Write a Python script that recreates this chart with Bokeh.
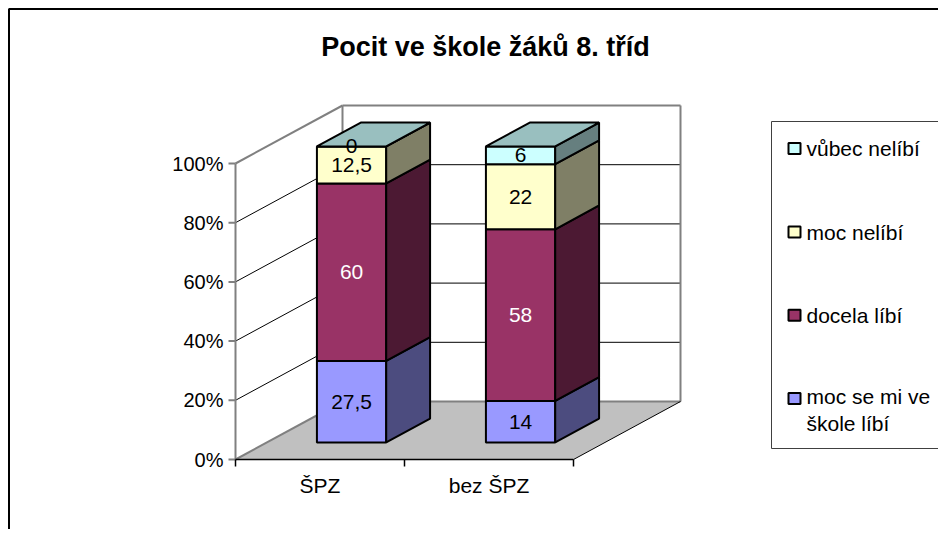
from bokeh.plotting import figure
from bokeh.models import Range1d
from bokeh.core.properties import value
from bokeh.embed import file_html
from bokeh.resources import INLINE

# ---------------- data ----------------
TITLE = "Pocit ve škole žáků 8. tříd"
CATEGORIES = ["ŠPZ", "bez ŠPZ"]
SERIES = ["moc se mi ve škole líbí", "docela líbí", "moc nelíbí", "vůbec nelíbí"]
LEGEND_LABELS = ["moc se mi ve\nškole líbí", "docela líbí", "moc nelíbí", "vůbec nelíbí"]
moc_se_mi_libi = [27.5, 14]
docela_libi = [60, 58]
moc_nelibi = [12.5, 22]
vubec_nelibi = [0, 6]
VALUES = [moc_se_mi_libi, docela_libi, moc_nelibi, vubec_nelibi]
Y_TICKS = [0, 20, 40, 60, 80, 100]
Y_TICK_LABELS = ["0%", "20%", "40%", "60%", "80%", "100%"]

# ---------------- styles ----------------
FRONT = ["#9999FF", "#993366", "#FFFFCC", "#CCFFFF"]
SIDE = ["#4C4C7F", "#4C1933", "#7F7F66", "#667F7F"]
TOP_OF_STACK = "#99BFBF"
LABEL_COLORS = ["black", "white", "black", "black"]
FONT = value("Liberation Sans")
GRAY = "#808080"

W, H = 938, 529
FIG_OFF = 0.0         # page px of the figure's top-left corner
ORIGIN_X = 235.0      # page px of category-axis start
ORIGIN_Y = 459.0      # page px of 0 %
PX_CAT = 169.0        # px per category
PX_PCT = 2.96         # px per percent
DX = 107.0 / PX_CAT   # depth offset (category units)
DY = 58.0 / PX_PCT    # depth offset (percent units)
Z0, Z1 = 0.295, 0.705
HALF = 0.205


def U(px):  # page px -> x data
    return (px - ORIGIN_X) / PX_CAT


def V(py):  # page py -> y data
    return (ORIGIN_Y - py) / PX_PCT


def P(u, v, z):
    return (u + z * DX, v + z * DY)


x0, x1 = U(FIG_OFF), U(FIG_OFF + W)
y0, y1 = V(FIG_OFF + H), V(FIG_OFF)

p = figure(width=W, height=H, output_backend="svg", toolbar_location=None,
           x_range=Range1d(x0, x1), y_range=Range1d(y0, y1),
           min_border=0, x_axis_type=None, y_axis_type=None)
p.grid.visible = False
p.outline_line_color = None
p.background_fill_color = "white"
p.border_fill_color = "white"

n = len(CATEGORIES)


def seg(a, b, color, width):
    p.line([a[0], b[0]], [a[1], b[1]], line_color=color, line_width=width)


# floor
fl = [P(0, 0, 0), P(n, 0, 0), P(n, 0, 1), P(0, 0, 1)]
p.patch([q[0] for q in fl], [q[1] for q in fl], fill_color="#C0C0C0", line_color=None)

# gridlines (side wall + back wall)
for t in Y_TICKS[1:-1]:
    a, b, c = P(0, t, 0), P(0, t, 1), P(n, t, 1)
    p.line([a[0], b[0], c[0]], [a[1], b[1], c[1]], line_color="black", line_width=1)

# wall / floor edges
seg(P(0, 0, 1), P(0, 100, 1), GRAY, 2)
seg(P(0, 100, 0), P(0, 100, 1), GRAY, 2)
seg(P(0, 100, 1), P(n, 100, 1), GRAY, 2)
seg(P(n, 0, 1), P(n, 100, 1), GRAY, 2)
seg(P(0, 0, 1), P(n, 0, 1), GRAY, 2)
seg(P(0, 0, 0), P(0, 0, 1), GRAY, 2)
seg(P(n, 0, 0), P(n, 0, 1), "black", 1)

# y axis
seg(P(0, 0, 0), P(0, 100, 0), GRAY, 2)
for t in Y_TICKS:
    p.line([-7 / PX_CAT, 0], [t, t], line_color=GRAY, line_width=2)
p.text(x=[-12 / PX_CAT] * len(Y_TICKS), y=Y_TICKS, text=Y_TICK_LABELS,
       text_font=FONT, text_font_size="20px", text_align="right",
       text_baseline="middle", text_color="black")

# x axis
seg(P(0, 0, 0), P(n, 0, 0), "black", 1.5)
for i in range(n + 1):
    p.line([i, i], [0, -7 / PX_PCT], line_color="black", line_width=1.5)
p.text(x=[i + 0.5 for i in range(n)], y=[-26 / PX_PCT] * n, text=CATEGORIES,
       text_font=FONT, text_font_size="21px", text_align="center",
       text_baseline="middle", text_color="black")

# bars
xs, ys, fills = [], [], []
lx, ly, lt, lc = [], [], [], []
for i in range(n):
    c = i + 0.5
    xl, xr = c - HALF, c + HALF
    total = sum(s[i] for s in VALUES)
    b = 0.0
    for k, s in enumerate(VALUES):
        t = b + s[i] / total * 100.0
        front = [P(xl, b, Z0), P(xr, b, Z0), P(xr, t, Z0), P(xl, t, Z0)]
        side = [P(xr, b, Z0), P(xr, b, Z1), P(xr, t, Z1), P(xr, t, Z0)]
        for face, col in ((front, FRONT[k]), (side, SIDE[k])):
            xs.append([q[0] for q in face])
            ys.append([q[1] for q in face])
            fills.append(col)
        m = P(c, (b + t) / 2, Z0)
        lx.append(m[0]); ly.append(m[1])
        lt.append(("%g" % s[i]).replace(".", ","))
        lc.append(LABEL_COLORS[k])
        b = t
    top = [P(xl, 100, Z0), P(xr, 100, Z0), P(xr, 100, Z1), P(xl, 100, Z1)]
    xs.append([q[0] for q in top]); ys.append([q[1] for q in top])
    fills.append(TOP_OF_STACK)

p.patches(xs, ys, fill_color=fills, line_color="black", line_width=2)
p.text(x=lx, y=ly, text=lt, text_color=lc, text_font=FONT, text_font_size="21px",
       text_align="center", text_baseline="middle")

# legend
p.quad(left=[U(771)], right=[U(990)], top=[V(121)], bottom=[V(448)],
       fill_color="white", line_color="#404040", line_width=1)
entry_y = [398, 314.7, 231.5, 148]
p.rect(x=[U(794)] * 4, y=[V(e) for e in entry_y], width=12, height=11,
       width_units="screen", height_units="screen",
       fill_color=FRONT, line_color="black", line_width=2)
text_y = [409.4, 314.7, 231.5, 148]
p.text(x=[U(806)] * 4, y=[V(e) for e in text_y], text=LEGEND_LABELS,
       text_font=FONT, text_font_size="21px", text_align="left",
       text_baseline="middle", text_color="black", text_line_height=1.18)

# title
p.text(x=[U(485)], y=[V(46)], text=[TITLE], text_font=FONT,
       text_font_size="27px", text_font_style="bold", text_align="center",
       text_baseline="alphabetic", text_color="black")

# chart border (left + top)
p.line([U(8.5), U(8.5), U(990)], [V(990), V(8.5), V(8.5)],
       line_color="black", line_width=2)

open("out.html", "w").write(file_html(p, INLINE))
